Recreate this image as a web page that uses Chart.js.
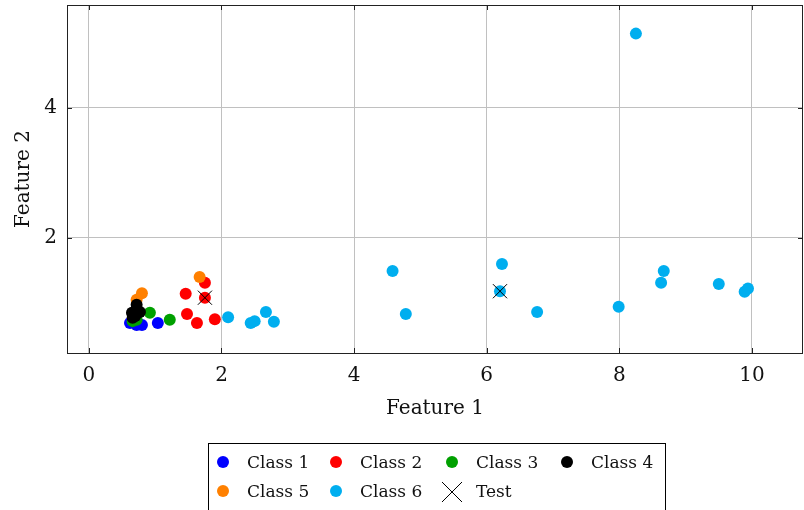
<!DOCTYPE html>
<html>
<head>
<meta charset="utf-8">
<script src="https://cdn.jsdelivr.net/npm/chart.js@4.4.1/dist/chart.umd.min.js"></script>
<style>
  body { margin: 0; background: #fff; }
  #wrap { position: relative; width: 804px; height: 510px; overflow: hidden; }
  #legend {
    position: absolute; left: 208px; top: 443px; width: 458px; height: 80px;
    border: 1px solid #000; box-sizing: border-box;
    font-family: "DejaVu Serif", serif; font-size: 17px; color: #111;
  }
  .item { position: absolute; height: 20px; line-height: 20px; }
  .mark { position: absolute; top: 4px; width: 12px; height: 12px; border-radius: 50%; }
</style>
</head>
<body>
<div id="wrap">
  <canvas id="scatter" width="804" height="510"></canvas>
  <div id="legend"></div>
</div>
<script>
// Data
var class1X = [0.62, 0.72, 0.80, 1.04];
var class1Y = [0.69, 0.66, 0.66, 0.69];
var class2X = [1.46, 1.75, 1.75, 1.48, 1.63, 1.90];
var class2Y = [1.14, 1.31, 1.08, 0.83, 0.69, 0.75];
var class3X = [0.72, 0.92, 1.22, 0.66];
var class3Y = [0.74, 0.85, 0.74, 0.72];
var class4X = [0.65, 0.72, 0.77, 0.66, 0.70];
var class4Y = [0.85, 0.97, 0.86, 0.77, 0.80];
var class5X = [0.80, 0.72, 1.67];
var class5Y = [1.15, 1.05, 1.40];
var class6X = [8.25, 4.58, 4.78, 6.23, 6.20, 6.76, 7.99, 8.63, 8.67, 9.50, 9.89, 9.94, 2.10, 2.44, 2.50, 2.67, 2.79];
var class6Y = [5.14, 1.49, 0.83, 1.60, 1.18, 0.86, 0.94, 1.31, 1.49, 1.29, 1.17, 1.22, 0.78, 0.69, 0.72, 0.86, 0.71];
var testX = [1.75, 6.20];
var testY = [1.08, 1.18];

var xTicks = [0, 2, 4, 6, 8, 10];
var yTicks = [2, 4];

function toPoints(xs, ys) {
  return xs.map(function(x, i) { return {x: x, y: ys[i]}; });
}

function dots(label, xs, ys, color, order) {
  return {
    label: label,
    data: toPoints(xs, ys),
    backgroundColor: color,
    borderWidth: 0,
    pointRadius: 6,
    pointHoverRadius: 6,
    order: order
  };
}

var datasets = [
  dots('Class 1', class1X, class1Y, '#0000ff', 6),
  dots('Class 2', class2X, class2Y, '#ff0000', 5),
  dots('Class 3', class3X, class3Y, '#00a000', 4),
  dots('Class 4', class4X, class4Y, '#000000', 2),
  dots('Class 5', class5X, class5Y, '#ff8000', 3),
  dots('Class 6', class6X, class6Y, '#00aeef', 7),
  {
    label: 'Test',
    data: toPoints(testX, testY),
    pointStyle: 'crossRot',
    pointRadius: 10,
    pointHoverRadius: 10,
    borderColor: '#000',
    backgroundColor: '#000',
    borderWidth: 1,
    order: 1
  }
];

// full frame round the plot with small inner ticks, like pgfplots
var framePlugin = {
  id: 'frame',
  afterDatasetsDraw: function(chart) {
    var ctx = chart.ctx, a = chart.chartArea;
    var xs = chart.scales.x, ys = chart.scales.y;
    ctx.save();
    ctx.strokeStyle = '#222';
    ctx.lineWidth = 1;
    xTicks.forEach(function(v) {
      var px = Math.round(xs.getPixelForValue(v)) + 0.5;
      ctx.beginPath();
      ctx.moveTo(px, a.top); ctx.lineTo(px, a.top + 5);
      ctx.moveTo(px, a.bottom); ctx.lineTo(px, a.bottom - 5);
      ctx.stroke();
    });
    yTicks.forEach(function(v) {
      var py = Math.round(ys.getPixelForValue(v)) + 0.5;
      ctx.beginPath();
      ctx.moveTo(a.left, py); ctx.lineTo(a.left + 5, py);
      ctx.moveTo(a.right, py); ctx.lineTo(a.right - 5, py);
      ctx.stroke();
    });
    ctx.strokeRect(Math.round(a.left) + 0.5, Math.round(a.top) + 0.5,
      Math.round(a.right - a.left) - 1, Math.round(a.bottom - a.top));
    ctx.restore();
  }
};

var serif = {family: '"DejaVu Serif", serif', size: 20};

function noPad(s) {
  s.paddingTop = 0; s.paddingBottom = 0; s.paddingLeft = 0; s.paddingRight = 0;
}

var chart = new Chart(document.getElementById('scatter'), {
  type: 'scatter',
  data: {datasets: datasets},
  options: {
    responsive: false,
    animation: false,
    layout: {autoPadding: false, padding: {top: 5, right: 1, bottom: 89, left: 0}},
    plugins: {legend: {display: false}, tooltip: {enabled: false}},
    scales: {
      x: {
        min: -0.33, max: 10.77,
        afterBuildTicks: function(s) { s.ticks = xTicks.map(function(v) { return {value: v}; }); },
        afterFit: function(s) { s.height = 68; noPad(s); },
        grid: {color: '#c0c0c0', drawTicks: false},
        border: {display: false},
        ticks: {color: '#111', font: serif, padding: 11, maxRotation: 0},
        title: {display: true, text: 'Feature 1', color: '#111', font: serif, padding: {top: 0, bottom: 0}}
      },
      y: {
        min: 0.23, max: 5.58,
        afterBuildTicks: function(s) { s.ticks = yTicks.map(function(v) { return {value: v}; }); },
        afterFit: function(s) { s.width = 67; noPad(s); },
        grid: {color: '#c0c0c0', drawTicks: false},
        border: {display: false},
        ticks: {color: '#111', font: serif, padding: 10},
        title: {display: true, text: 'Feature 2', color: '#111', font: serif, padding: {top: 12, bottom: 0}}
      }
    }
  },
  plugins: [framePlugin]
});

// legend in a boxed two-row grid below the plot
var legendPos = [
  [222, 462], [335, 462], [451, 462], [566, 462],
  [222, 491], [335, 491], [451, 491]
];
var legendBox = document.getElementById('legend');
chart.data.datasets.forEach(function(ds, i) {
  var cx = legendPos[i][0] - 208, cy = legendPos[i][1] - 443;
  var item = document.createElement('div');
  item.className = 'item';
  item.style.left = (cx - 10) + 'px';
  item.style.top = (cy - 11) + 'px';
  var mark;
  if (ds.pointStyle === 'crossRot') {
    mark = document.createElementNS('http://www.w3.org/2000/svg', 'svg');
    mark.setAttribute('width', '22');
    mark.setAttribute('height', '22');
    mark.style.position = 'absolute';
    mark.style.left = '-1px';
    mark.style.top = '0px';
    mark.innerHTML = '<path d="M1 1 L21 21 M21 1 L1 21" stroke="#000" stroke-width="1"/>';
  } else {
    mark = document.createElement('span');
    mark.className = 'mark';
    mark.style.left = '4px';
    mark.style.background = ds.backgroundColor;
  }
  item.appendChild(mark);
  var text = document.createElement('span');
  text.textContent = ds.label;
  text.style.position = 'absolute';
  text.style.left = '34px';
  text.style.whiteSpace = 'nowrap';
  item.appendChild(text);
  legendBox.appendChild(item);
});
</script>
</body>
</html>
